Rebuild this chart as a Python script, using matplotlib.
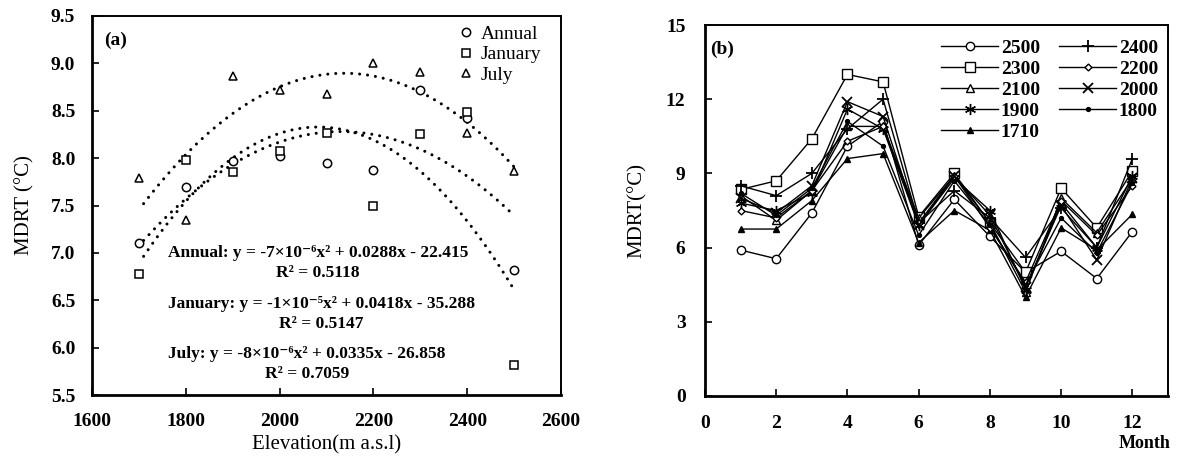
import numpy as np
import matplotlib
matplotlib.use("Agg")
import matplotlib.pyplot as plt

plt.rcParams['font.family'] = ['Liberation Serif', 'DejaVu Serif']
plt.rcParams['mathtext.fontset'] = 'stix'

# ---------------- data: panel (a) ----------------
elevation = [1700, 1800, 1900, 2000, 2100, 2200, 2300, 2400, 2500]
annual = [7.10, 7.70, 7.97, 8.02, 7.95, 7.87, 8.72, 8.42, 6.82]
january = [6.78, 7.98, 7.85, 8.08, 8.27, 7.50, 8.25, 8.49, 5.82]
july = [7.79, 7.35, 8.87, 8.72, 8.68, 9.00, 8.91, 8.27, 7.86]

eq_annual = "Annual: y = -7×10⁻⁶x² + 0.0288x - 22.415\nR² = 0.5118"
eq_january = "January: y = -1×10⁻⁵x² + 0.0418x - 35.288\nR² = 0.5147"
eq_july = "July: y = -8×10⁻⁶x² + 0.0335x - 26.858\nR² = 0.7059"

# ---------------- data: panel (b) ----------------
months = [1, 2, 3, 4, 5, 6, 7, 8, 9, 10, 11, 12]
s2500 = [5.90, 5.55, 7.40, 10.10, 11.10, 6.10, 7.95, 6.45, 5.00, 5.85, 4.75, 6.65]
s2400 = [8.50, 8.10, 9.00, 10.80, 12.00, 7.00, 8.30, 7.20, 5.60, 7.60, 6.00, 9.60]
s2300 = [8.35, 8.70, 10.40, 13.00, 12.70, 7.25, 9.00, 7.00, 5.00, 8.40, 6.80, 9.10]
s2200 = [7.50, 7.20, 8.30, 10.30, 10.90, 7.00, 8.90, 6.80, 4.60, 7.90, 6.50, 8.50]
s2100 = [8.10, 7.10, 8.30, 10.90, 10.90, 7.20, 8.90, 7.00, 4.20, 8.00, 6.60, 8.80]
s2000 = [8.00, 7.40, 8.50, 11.90, 11.30, 6.90, 8.90, 7.30, 4.40, 7.70, 5.50, 8.80]
s1900 = [7.80, 7.50, 8.20, 11.60, 10.80, 6.90, 8.80, 7.50, 4.30, 7.80, 6.00, 8.90]
s1800 = [8.20, 7.30, 8.40, 11.10, 10.10, 6.50, 8.70, 6.90, 4.50, 7.20, 5.80, 8.60]
s1710 = [6.75, 6.75, 7.90, 9.60, 9.80, 6.20, 7.50, 6.70, 4.00, 6.80, 5.90, 7.35]

W, H = 1184, 457
fig = plt.figure(figsize=(W / 100, H / 100), dpi=100)

def style_axes(ax, xpad, ypad):
    for side in ['left', 'bottom']:
        ax.spines[side].set_linewidth(2.0)
    for side in ['top', 'right']:
        ax.spines[side].set_linewidth(1.4)
    ax.tick_params(direction='in', length=5, width=1.2, labelsize=14,
                   top=False, right=False)
    ax.tick_params(axis='x', pad=xpad)
    ax.tick_params(axis='y', pad=ypad)
    for lab in ax.get_xticklabels() + ax.get_yticklabels():
        lab.set_fontweight('bold')

# ---------------- panel (a) ----------------
axa = fig.add_axes([92 / W, 1 - 395 / H, (561 - 92) / W, (395 - 16) / H])
axa.set_xlim(1600, 2600)
axa.set_ylim(5.5, 9.5)
axa.set_xticks(np.arange(1600, 2601, 200))
axa.set_yticks(np.arange(5.5, 9.51, 0.5))
axa.yaxis.set_major_formatter(matplotlib.ticker.FormatStrFormatter('%.1f'))

xfit = np.linspace(1710, 2500, 200)
for series in (annual, january, july):
    c = np.polyfit(elevation, series, 2)
    axa.plot(xfit, np.polyval(c, xfit), color='black', lw=2.2,
             linestyle=(0, (0.01, 2.6)), dash_capstyle='round')

axa.plot(elevation, annual, 'o', ms=6, mfc='white', mec='black', mew=1.1,
         label='Annual', zorder=3)
axa.plot(elevation, january, 's', ms=6, mfc='white', mec='black', mew=1.1,
         label='January', zorder=3)
axa.plot(elevation, july, '^', ms=6, mfc='white', mec='black', mew=1.1,
         label='July', zorder=3)

axa.legend(loc='upper right', frameon=False, fontsize=14,
           handlelength=0.8, handletextpad=0.35, labelspacing=0.13,
           borderaxespad=0.0, bbox_to_anchor=(0.975, 0.995))

eq_kw = dict(fontsize=12.5, fontweight='bold', ha='left', va='center',
             multialignment='center', linespacing=1.3)
axa.text(1762, 6.89, eq_annual, **eq_kw)
axa.text(1762, 6.355, eq_january, **eq_kw)
axa.text(1762, 5.83, eq_july, **eq_kw)

axa.text(0.025, 0.935, '(a)', transform=axa.transAxes, fontsize=14,
         fontweight='bold', ha='left', va='center')
axa.set_xlabel('Elevation(m a.s.l)', fontsize=15, labelpad=4)
axa.set_ylabel('MDRT (°C)', fontsize=15, labelpad=12)
style_axes(axa, xpad=13, ypad=12)

# ---------------- panel (b) ----------------
axb = fig.add_axes([705 / W, 1 - 396 / H, (1168 - 705) / W, (396 - 25) / H])
axb.set_xlim(0, 13)
axb.set_ylim(0, 15)
axb.set_xticks(np.arange(0, 13, 2))
axb.set_yticks(np.arange(0, 16, 3))

series_b = [
    ('2500', s2500, dict(marker='o', ms=6, mfc='white')),
    ('2300', s2300, dict(marker='s', ms=6.5, mfc='white')),
    ('2100', s2100, dict(marker='^', ms=6, mfc='white')),
    ('1900', s1900, dict(marker=(6, 2, 0), ms=8)),
    ('1710', s1710, dict(marker='^', ms=5, mfc='black')),
    ('2400', s2400, dict(marker='+', ms=9, mew=1.3)),
    ('2200', s2200, dict(marker='D', ms=3.5, mfc='white')),
    ('2000', s2000, dict(marker='x', ms=7, mew=1.3)),
    ('1800', s1800, dict(marker='o', ms=2.8, mfc='black')),
]
for name, vals, kw in series_b:
    kw = dict(kw)
    kw.setdefault('mew', 1.0)
    axb.plot(months, vals, color='black', lw=1.0, mec='black', label=name, **kw)

axb.legend(loc='upper right', ncol=2, frameon=False,
           prop={'weight': 'bold', 'size': 14},
           handlelength=2.9, handletextpad=0.15, columnspacing=1.0,
           labelspacing=0.17, borderaxespad=0.0, bbox_to_anchor=(0.995, 0.982))

axb.text(0.01, 0.935, '(b)', transform=axb.transAxes, fontsize=14,
         fontweight='bold', ha='left', va='center')
axb.set_ylabel('MDRT(°C)', fontsize=15, labelpad=14)
fig.text(1145 / W, 1 - 443 / H, 'Month', fontsize=13, fontweight='bold',
         ha='center', va='center')
style_axes(axb, xpad=14, ypad=14)

fig.savefig('out.png', dpi=100)
